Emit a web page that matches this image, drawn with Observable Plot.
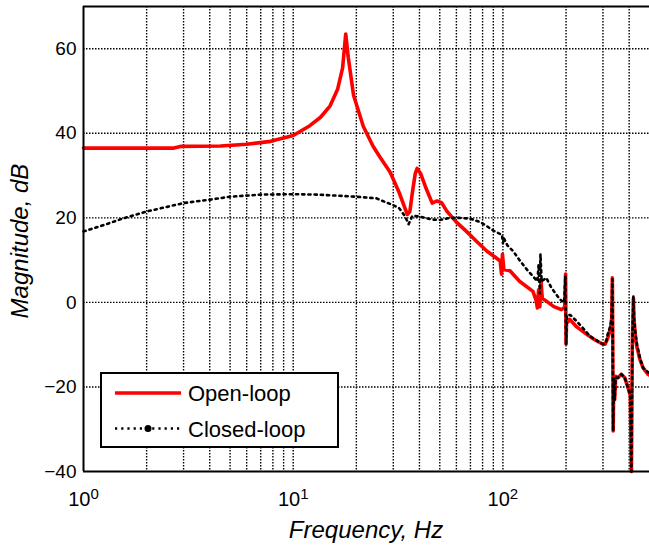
<!DOCTYPE html>
<html><head><meta charset="utf-8">
<script src="https://cdn.jsdelivr.net/npm/d3@7"></script>
<script src="https://cdn.jsdelivr.net/npm/@observablehq/plot@0.6"></script>
<style>
body{margin:0;background:#fff;}
#chart{position:relative;width:649px;height:549px;}
</style>
</head><body><div id="chart"></div>
<script>
// Open-loop magnitude (red)
const openFreq = [1, 2.7, 2.9, 4.5, 6, 7.8, 10, 12, 13.5, 15, 16.3, 17.2, 17.8, 18.3, 19.4, 21.6, 24, 26, 29, 32, 34, 35, 36, 37, 38.2, 39, 40.5, 43, 46, 48.5, 51, 54, 60, 67, 75, 84, 93, 97, 98.5, 99.5, 101, 108, 120, 139, 144, 146, 148, 150, 152, 154, 161, 175, 190, 197, 199, 200, 201, 208, 225, 250, 275, 300, 307, 316, 326, 330, 332.5, 334, 335.5, 338, 341, 345, 354, 367, 381, 395, 405, 410, 414, 419, 422, 428, 436, 450, 466, 492, 500];
const openDb = [36.5, 36.5, 36.9, 37.0, 37.4, 38.1, 39.5, 41.8, 43.8, 46.5, 50.5, 55.5, 63.5, 58, 49, 41.6, 37, 34.3, 30.8, 26, 22.5, 20.8, 21.5, 26, 30.5, 31.7, 30.5, 27, 23.5, 24, 23.6, 21.6, 19, 16.8, 14.4, 12.1, 10.5, 9.8, 6.7, 11.4, 7.8, 7.5, 5, 2.6, 0.5, -1.3, 3, -1, 5, 1, 0.3, -1, -1.7, -1.2, 6.7, -9.9, -5, -4, -5.8, -7.5, -8.9, -9.9, -9.9, -8.5, -6, -4, 5.8, -8, -30.4, -18, -23, -17.5, -17.8, -17, -17.8, -20.2, -22, -40, -10, 1.0, -4, -8, -10.7, -13.5, -15.5, -17, -17.2];

// Closed-loop magnitude (black dotted)
const closedFreq = [1, 1.25, 1.55, 2, 2.5, 3, 4, 5, 7, 10, 13, 17, 20, 25, 27, 30, 32, 34, 35, 35.5, 37, 40, 46, 50, 56, 62, 70, 78, 84, 90, 95, 99, 100, 101, 105, 112, 120, 130, 140, 146, 148, 150, 151, 153, 161, 170, 187, 196, 198.5, 200, 202, 210, 224, 240, 260, 280, 300, 310, 316, 326, 330, 332.5, 334, 335.5, 338, 341, 345, 354, 367, 381, 395, 405, 410, 414, 419, 422, 428, 436, 450, 466, 492, 500];
const closedDb = [16.8, 18.3, 19.9, 21.5, 22.6, 23.5, 24.3, 25.0, 25.5, 25.6, 25.5, 25.2, 25.0, 24.6, 23.9, 23.0, 22.3, 20.5, 19.2, 18.5, 20.5, 20.3, 19.6, 19.5, 20.0, 20.0, 19.8, 19.0, 18.0, 17.0, 16.4, 16.0, 14.0, 15.2, 13.5, 12.1, 10, 7.8, 6, 5, 9, 2.2, 11.4, 5, 5.8, 3.5, 0.7, 0, 6.2, -9.9, -3, -3, -4.4, -6, -8.0, -9, -9.9, -9.5, -7.5, -5.5, -3.5, 5.4, -8, -30.4, -18, -23, -17.8, -17.8, -17, -17.8, -20.2, -22, -40, -10, 1.5, -4, -7, -10, -13, -15.5, -16.5, -16.8];

const yTicks = [-40, -20, 0, 20, 40, 60];
const xMajor = [1, 10, 100];
const xGrid = [2,3,4,5,6,7,8,9,10,20,30,40,50,60,70,80,90,100,200,300,400];
const seriesNames = ["Open-loop", "Closed-loop"];
const xLabel = "Frequency, Hz";
const yLabel = "Magnitude, dB";

const openData = openFreq.map((f, i) => ({f, db: openDb[i]}));
const closedData = closedFreq.map((f, i) => ({f, db: closedDb[i]}));

const font = "'Liberation Sans', Arial, Helvetica, sans-serif";
const gridDash = "1.5,1.5";
const lineDash = "2.2,4";

const chart = Plot.plot({
  width: 649, height: 549,
  marginLeft: 83, marginRight: 0, marginTop: 6, marginBottom: 78,
  style: {fontFamily: font, background: "white", overflow: "visible"},
  x: {type: "log", domain: [1, 500]},
  y: {domain: [-40, 70]},
  marks: [
    Plot.ruleX(xGrid, {stroke: "black", strokeWidth: 1.4, strokeDasharray: gridDash}),
    Plot.ruleY(yTicks.filter(d => d !== -40), {stroke: "black", strokeWidth: 1.4, strokeDasharray: gridDash}),
    Plot.line(openData, {x: "f", y: "db", stroke: "#ff0000", strokeWidth: 3.6}),
    Plot.line(closedData, {x: "f", y: "db", stroke: "black", strokeWidth: 2.6, strokeDasharray: lineDash}),
    Plot.ruleY([70], {stroke: "black", strokeWidth: 2}),
    Plot.ruleY([-40], {stroke: "black", strokeWidth: 2}),
    Plot.ruleX([1], {stroke: "black", strokeWidth: 2}),
    Plot.axisY(yTicks, {tickSize: 0, tickPadding: 7, fontSize: 19, label: null, fill: "black"}),
    Plot.axisX(xMajor, {tickSize: 0, tickPadding: 20, fontSize: 20, label: null, tickFormat: d => String(Math.round(Math.log10(d))), fill: "black"})
  ]
});

document.getElementById("chart").appendChild(chart);
const svg = d3.select(chart);

// Superscript tick labels 10^n
svg.selectAll('g[aria-label="x-axis tick label"] text').each(function() {
  const t = d3.select(this);
  const exp = t.text();
  t.text(null);
  t.append("tspan").text("10");
  t.append("tspan").attr("dy", "-0.45em").attr("font-size", 15).text(exp);
});

// Axis titles
svg.append("text")
  .attr("transform", "translate(28,241) rotate(-90)")
  .attr("text-anchor", "middle")
  .attr("font-family", font).attr("font-style", "italic").attr("font-size", 24)
  .attr("fill", "black")
  .text(yLabel);
svg.append("text")
  .attr("x", 366).attr("y", 538)
  .attr("text-anchor", "middle")
  .attr("font-family", font).attr("font-style", "italic").attr("font-size", 24)
  .attr("fill", "black")
  .text(xLabel);

// Legend
const lg = svg.append("g");
lg.append("rect").attr("x", 101).attr("y", 373).attr("width", 237).attr("height", 74)
  .attr("fill", "white").attr("stroke", "black").attr("stroke-width", 2);
lg.append("line").attr("x1", 115).attr("x2", 181).attr("y1", 393).attr("y2", 393)
  .attr("stroke", "#ff0000").attr("stroke-width", 3.6);
lg.append("line").attr("x1", 115).attr("x2", 181).attr("y1", 428.5).attr("y2", 428.5)
  .attr("stroke", "black").attr("stroke-width", 2.6).attr("stroke-dasharray", lineDash);
lg.append("circle").attr("cx", 148).attr("cy", 428.5).attr("r", 3.5).attr("fill", "black");
lg.append("text").attr("x", 188).attr("y", 401).attr("text-anchor", "start")
  .attr("font-family", font).attr("font-size", 22)
  .attr("fill", "black").text(seriesNames[0]);
lg.append("text").attr("x", 188).attr("y", 437).attr("text-anchor", "start")
  .attr("font-family", font).attr("font-size", 22)
  .attr("fill", "black").text(seriesNames[1]);
</script>
</body></html>
